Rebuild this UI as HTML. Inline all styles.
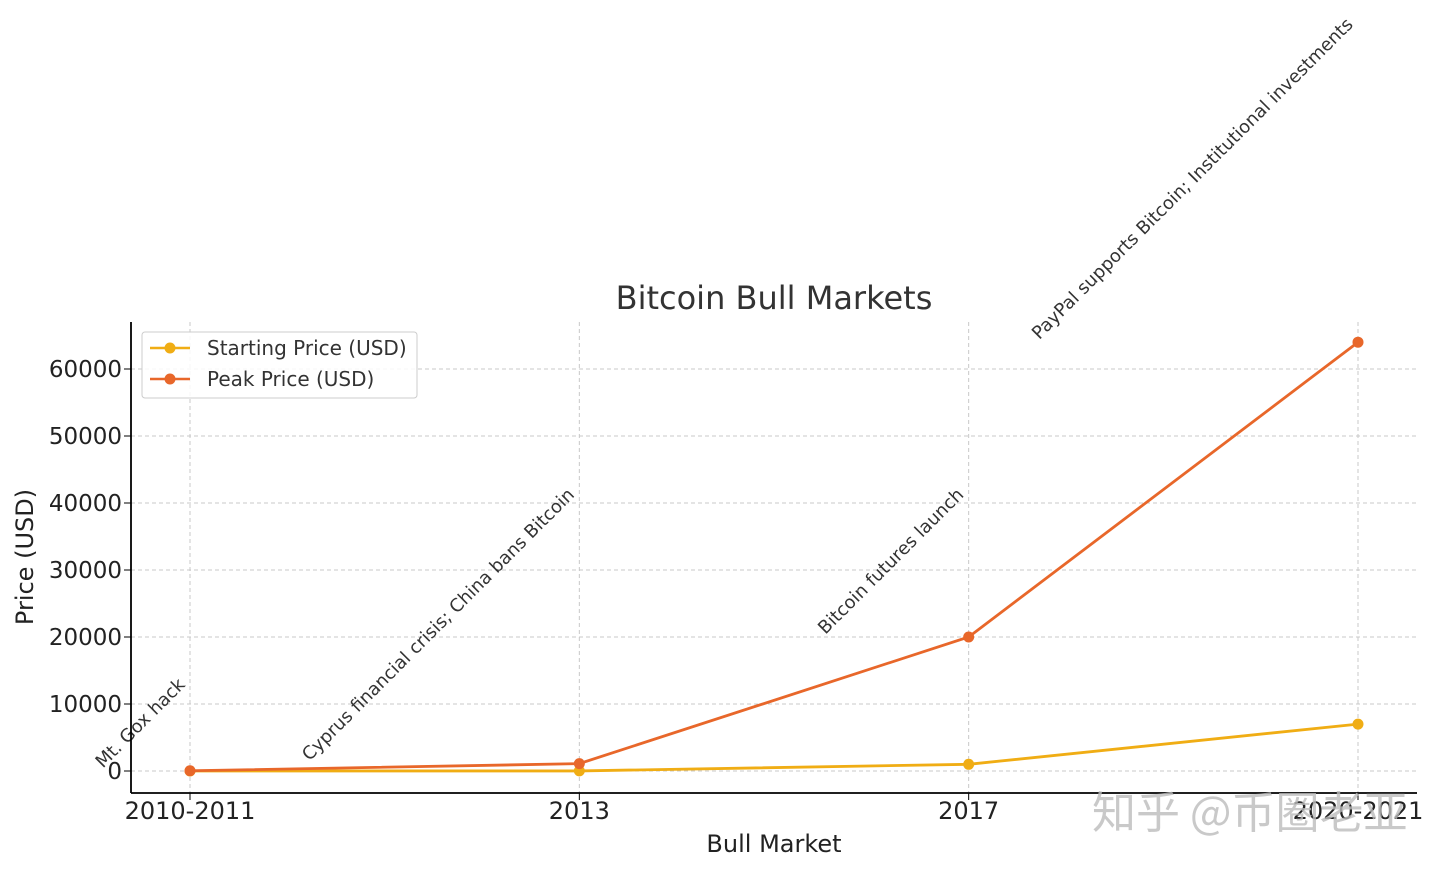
<!DOCTYPE html>
<html><head><meta charset="utf-8"><style>
body{margin:0;background:#fff;}
svg{display:block;font-family:"DejaVu Sans","Liberation Sans","Noto Sans CJK SC",sans-serif;}
</style></head><body>
<svg id="c" width="1440" height="871">
<text x="774" y="309" font-size="32" text-anchor="middle" fill="#333">Bitcoin Bull Markets</text>
<g id="grid"></g>
<g id="marks"></g>
<line x1="131" y1="322" x2="131" y2="793" stroke="#000" stroke-width="1.8"/>
<line x1="131" y1="793" x2="1417" y2="793" stroke="#000" stroke-width="1.8"/>
<g id="ticks"></g>
<text x="774" y="852" font-size="24" text-anchor="middle" fill="#222">Bull Market</text>
<text transform="translate(33,557) rotate(-90)" font-size="24" text-anchor="middle" fill="#222">Price (USD)</text>
<g>
<rect x="142" y="332" width="275" height="66" rx="3" fill="#fff" fill-opacity="0.85" stroke="#ccc"/>
<line x1="150" y1="348" x2="190" y2="348" stroke="#f0ad14" stroke-width="2.5"/><circle cx="170" cy="348" r="5.5" fill="#f0ad14"/>
<text x="207" y="355" font-size="20" fill="#333">Starting Price (USD)</text>
<line x1="150" y1="379" x2="190" y2="379" stroke="#e8672a" stroke-width="2.5"/><circle cx="170" cy="379" r="5.5" fill="#e8672a"/>
<text x="207" y="386" font-size="20" fill="#333">Peak Price (USD)</text>
</g>
<text x="1092" y="828" font-size="44" fill="#bbb" fill-opacity="0.8" font-family="Noto Sans CJK SC, sans-serif">知乎 @币圈老亚</text>
</svg>
<script>
const categories=["2010-2011","2013","2017","2020-2021"];
const startPrices=[0.06,13,1000,7000];
const peakPrices=[32,1100,20000,64000];
const events=["Mt. Gox hack","Cyprus financial crisis; China bans Bitcoin","Bitcoin futures launch","PayPal supports Bitcoin; Institutional investments"];
const yTicks=[0,10000,20000,30000,40000,50000,60000];
const NS="http://www.w3.org/2000/svg";
const xs=i=>190+i*(1358-190)/(categories.length-1);
const ys=v=>771-v*(771-369)/60000;
function mk(tag,attrs,parent){const e=document.createElementNS(NS,tag);for(const k in attrs)e.setAttribute(k,attrs[k]);parent.appendChild(e);return e;}
const grid=document.getElementById('grid'),marks=document.getElementById('marks'),ticks=document.getElementById('ticks');
yTicks.forEach(t=>{const y=ys(t);
 const g=mk('line',{x1:131,x2:1417,y1:y,y2:y,stroke:'#c8c8c8','stroke-dasharray':'4,3'},grid);
 
 
 mk('line',{x1:124,x2:131,y1:y,y2:y,stroke:'#000'},ticks);
 const tx=mk('text',{x:122,y:y+8,'font-size':23,'text-anchor':'end',fill:'#222'},ticks);tx.textContent=t;
 
 });
categories.forEach((c,i)=>{const x=xs(i);
 const g=mk('line',{x1:x,x2:x,y1:322,y2:793,stroke:'#c8c8c8','stroke-dasharray':'4,3'},grid);
 
 
 mk('line',{x1:x,x2:x,y1:793,y2:800,stroke:'#000'},ticks);
 const tx=mk('text',{x:x,y:819,'font-size':24,'text-anchor':'middle',fill:'#222'},ticks);tx.textContent=c;
 
 });
[[startPrices,'#f0ad14','starting-price'],[peakPrices,'#e8672a','peak-price']].forEach(([arr,col,nm])=>{
 const p=mk('polyline',{points:arr.map((v,i)=>xs(i)+','+ys(v)).join(' '),fill:'none',stroke:col,'stroke-width':2.8},marks);
 
 
 arr.forEach((v,i)=>{const c=mk('circle',{cx:xs(i),cy:ys(v),r:5.5,fill:col},marks);
  
  });});
events.forEach((e,i)=>{
 const t=mk('text',{'font-size':18,fill:'#333'},marks);t.textContent=e;
 
 
 const L=t.getComputedTextLength()*Math.SQRT1_2;
 const x0=xs(i)-L-4,y0=ys(peakPrices[i])-2;
 t.setAttribute('transform','translate('+x0+','+y0+') rotate(-45)');});
</script>
</body></html>
